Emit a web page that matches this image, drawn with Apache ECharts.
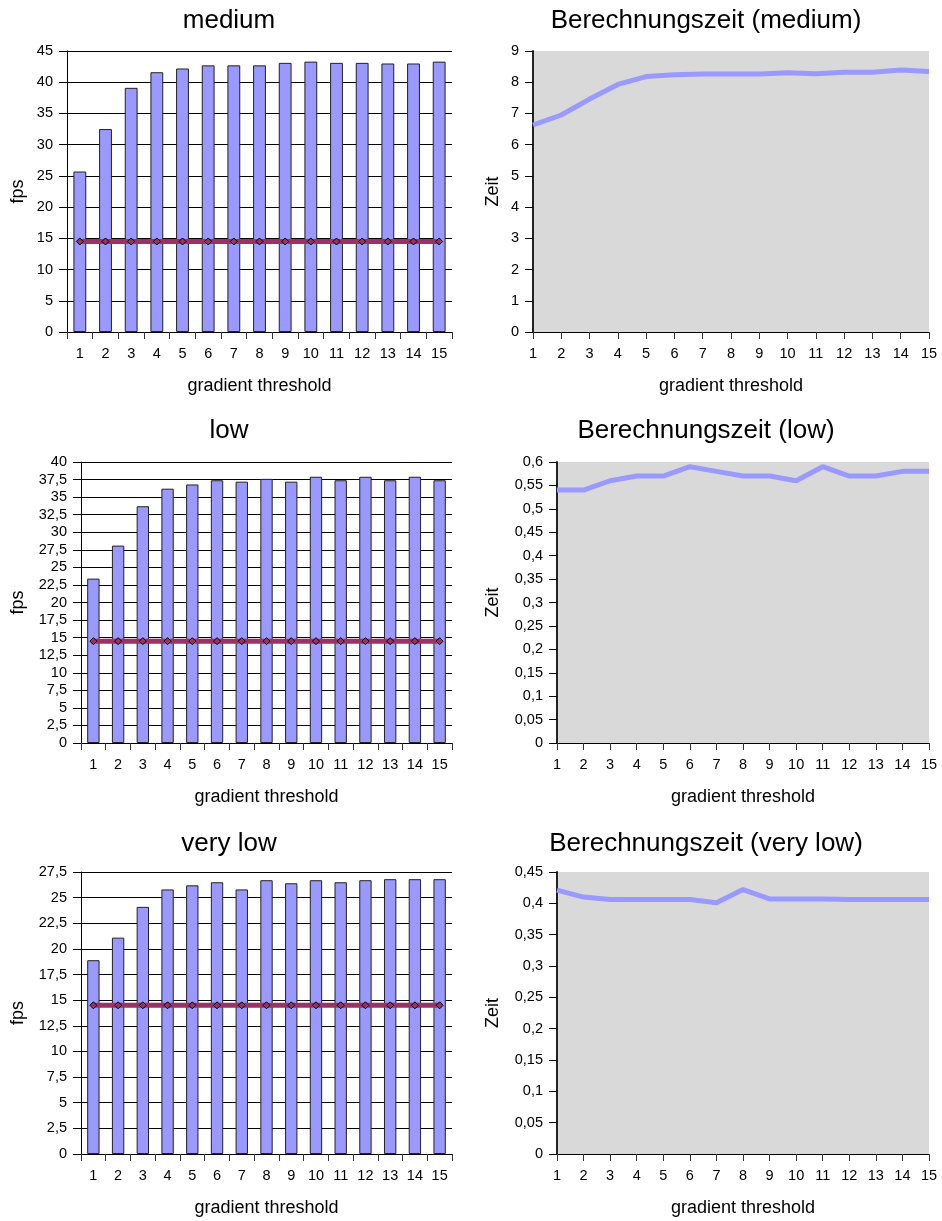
<!DOCTYPE html>
<html>
<head>
<meta charset="utf-8">
<script src="https://cdn.jsdelivr.net/npm/echarts@6/dist/echarts.min.js"></script>
<style>
  html, body { margin: 0; padding: 0; background: #fff; }
  #chart { width: 942px; height: 1221px; }
</style>
</head>
<body>
<div id="chart"></div>
<script>
const categories = ["1", "2", "3", "4", "5", "6", "7", "8", "9", "10", "11", "12", "13", "14", "15"];

// fps per gradient threshold
const fpsMedium = [25.7, 32.5, 39.1, 41.6, 42.2, 42.7, 42.7, 42.7, 43.1, 43.3, 43.1, 43.1, 43.0, 43.0, 43.3];
const fpsLow = [23.4, 28.1, 33.7, 36.2, 36.8, 37.4, 37.2, 37.6, 37.2, 37.9, 37.4, 37.9, 37.4, 37.9, 37.4];
const fpsVeryLow = [18.9, 21.1, 24.1, 25.8, 26.2, 26.5, 25.8, 26.7, 26.4, 26.7, 26.5, 26.7, 26.8, 26.8, 26.8];
// target frame rate line
const fpsTarget = [14.5, 14.5, 14.5, 14.5, 14.5, 14.5, 14.5, 14.5, 14.5, 14.5, 14.5, 14.5, 14.5, 14.5, 14.5];

// Berechnungszeit
const zeitMedium = [6.63, 6.95, 7.46, 7.93, 8.18, 8.24, 8.26, 8.26, 8.26, 8.3, 8.27, 8.32, 8.32, 8.39, 8.34];
const zeitLow = [0.54, 0.54, 0.56, 0.57, 0.57, 0.59, 0.58, 0.57, 0.57, 0.56, 0.59, 0.57, 0.57, 0.58, 0.58];
const zeitVeryLow = [0.421, 0.41, 0.406, 0.406, 0.406, 0.406, 0.401, 0.422, 0.407, 0.407, 0.407, 0.406, 0.406, 0.406, 0.406];

const font = "'Liberation Sans', Arial, sans-serif";
const comma = (v) => String(v).replace(".", ",");

const panels = [
  { title: "medium", tx: 229, ty: 8, grid: { left: 67, top: 51, width: 385, height: 281 },
    kind: "bar", data: fpsMedium, max: 45, interval: 5, yName: "fps", yGap: 40 },
  { title: "Berechnungszeit (medium)", tx: 706, ty: 8, grid: { left: 533, top: 51, width: 396, height: 281 },
    kind: "line", data: zeitMedium, max: 9, interval: 1, yName: "Zeit", yGap: 31 },
  { title: "low", tx: 229, ty: 418, grid: { left: 81, top: 462, width: 371, height: 281 },
    kind: "bar", data: fpsLow, max: 40, interval: 2.5, yName: "fps", yGap: 54 },
  { title: "Berechnungszeit (low)", tx: 706, ty: 418, grid: { left: 557, top: 462, width: 372, height: 281 },
    kind: "line", data: zeitLow, max: 0.6, interval: 0.05, yName: "Zeit", yGap: 55 },
  { title: "very low", tx: 229, ty: 831, grid: { left: 81, top: 872, width: 371, height: 282 },
    kind: "bar", data: fpsVeryLow, max: 27.5, interval: 2.5, yName: "fps", yGap: 54 },
  { title: "Berechnungszeit (very low)", tx: 706, ty: 831, grid: { left: 557, top: 872, width: 372, height: 282 },
    kind: "line", data: zeitVeryLow, max: 0.45, interval: 0.05, yName: "Zeit", yGap: 55 }
];

const option = {
  animation: false,
  textStyle: { fontFamily: font },
  title: [], grid: [], xAxis: [], yAxis: [], series: []
};

panels.forEach((p, i) => {
  const isBar = p.kind === "bar";
  option.title.push({
    text: p.title, left: p.tx, top: p.ty, textAlign: "center", padding: 0,
    textStyle: { fontFamily: font, fontSize: 26, fontWeight: "normal", color: "#000" }
  });
  option.grid.push(Object.assign({
    containLabel: false,
    show: !isBar,
    backgroundColor: "#d9d9d9",
    borderWidth: 0
  }, p.grid));
  option.xAxis.push({
    type: "category", gridIndex: i, data: categories,
    boundaryGap: isBar,
    name: "gradient threshold", nameLocation: "middle", nameGap: 45,
    nameTextStyle: { fontFamily: font, fontSize: 18, color: "#000" },
    axisLine: { lineStyle: { color: "#000", width: 1 } },
    axisTick: { show: true, alignWithLabel: false, length: 7, lineStyle: { color: "#333" } },
    axisLabel: { fontFamily: font, fontSize: 14.5, color: "#000", margin: 14, interval: 0 },
    splitLine: { show: false }
  });
  option.yAxis.push({
    type: "value", gridIndex: i, min: 0, max: p.max, interval: p.interval,
    name: p.yName, nameLocation: "middle", nameGap: p.yGap,
    nameTextStyle: { fontFamily: font, fontSize: 18, color: "#000" },
    axisLine: { show: true, lineStyle: { color: isBar ? "#000" : "#222", width: isBar ? 1 : 2 } },
    axisTick: { show: true, length: 8, lineStyle: { color: "#000" } },
    axisLabel: { fontFamily: font, fontSize: 14.5, color: "#000", margin: 14, formatter: comma },
    splitLine: { show: isBar, lineStyle: { color: "#000", width: 1 } }
  });
  if (isBar) {
    option.series.push({
      type: "bar", xAxisIndex: i, yAxisIndex: i, data: p.data,
      barCategoryGap: "50%",
      itemStyle: { color: "#9999ff", borderColor: "#222", borderWidth: 1 }
    });
    option.series.push({
      type: "line", xAxisIndex: i, yAxisIndex: i, data: fpsTarget,
      symbol: "diamond", symbolSize: 7, showAllSymbol: true,
      lineStyle: { color: "#993366", width: 5 },
      itemStyle: { color: "#993366", borderColor: "#000", borderWidth: 1 },
      z: 5
    });
  } else {
    option.series.push({
      type: "line", xAxisIndex: i, yAxisIndex: i, data: p.data,
      symbol: "none",
      lineStyle: { color: "#9999ff", width: 5 }
    });
  }
});

const chart = echarts.init(document.getElementById("chart"));
chart.setOption(option);
</script>
</body>
</html>
